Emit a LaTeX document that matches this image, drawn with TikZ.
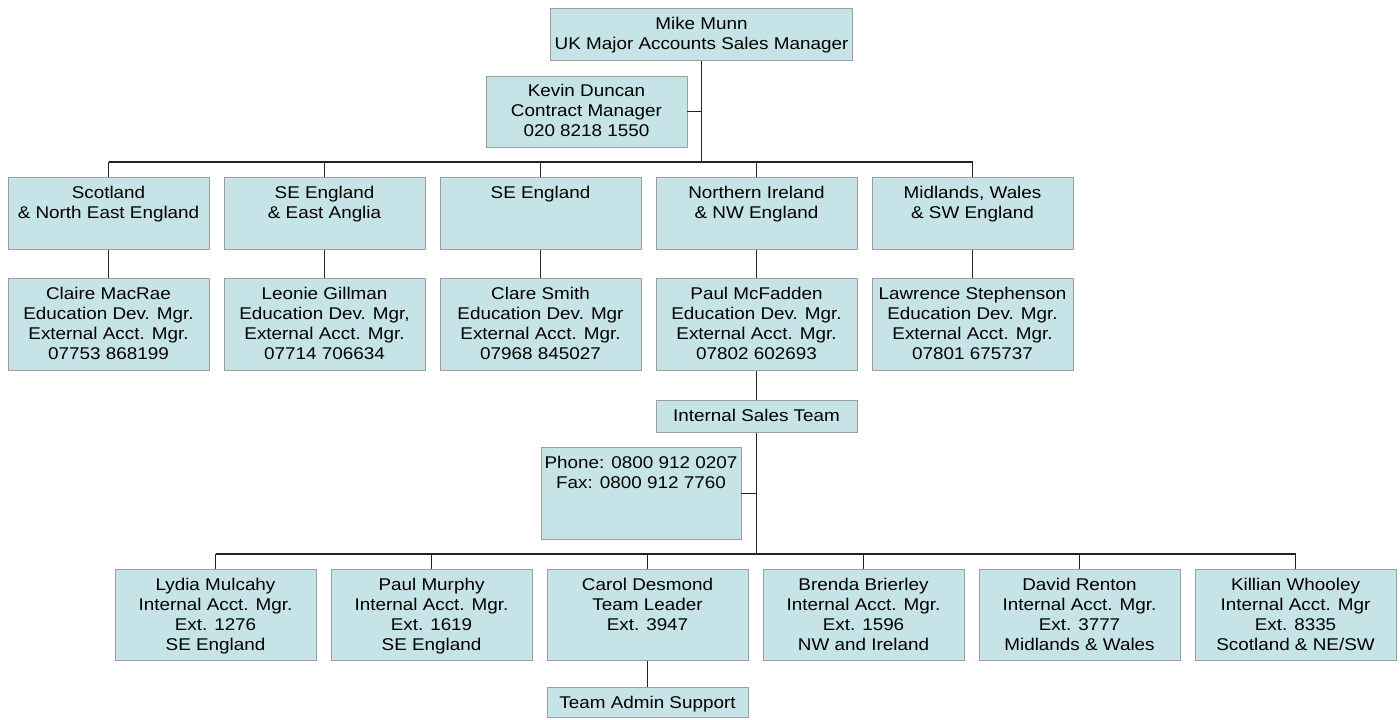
\documentclass[tikz,border=0pt]{standalone}
\usepackage{fontspec}
\setmainfont[FakeStretch=1.11]{Liberation Sans}

\definecolor{boxfill}{RGB}{198,228,232}
\definecolor{boxline}{RGB}{158,158,158}
\definecolor{wire}{RGB}{35,35,35}

\tikzset{
	% #1 = last baseline below the top, #2 = room below it
	post/.style 2 args={draw=boxline, fill=boxfill, line width=0.9pt, anchor=north, minimum width=201pt,
		inner ysep=0pt, text height=#1, text depth=#2, align=center, font=\fontsize{17}{20}\selectfont},
	link/.style={draw=wire, line width=1.1pt},
}

\begin{document}
\begin{tikzpicture}[x=1pt,y=-1pt]
	\useasboundingbox (0,0) rectangle (1400,720);
	% top
	\node[post={41pt}{11pt}, minimum width=302pt] (munn) at (701.5,8) {Mike Munn\\UK Major Accounts Sales Manager};
	\node[post={61pt}{10.5pt}] (duncan) at (586.5,75.5) {Kevin Duncan\\Contract Manager\\020 8218 1550};
	\coordinate (bustop) at (0,162);
	% regions
	\node[post={41pt}{31pt}] (scot) at (108.5,177) {Scotland\\\& North East England};
	\node[post={41pt}{31pt}] (anglia) at (324.5,177) {SE England\\\& East Anglia};
	\node[post={21pt}{51pt}] (se) at (540.5,177) {SE England};
	\node[post={41pt}{31pt}] (ni) at (756.5,177) {Northern Ireland\\\& NW England};
	\node[post={41pt}{31pt}] (mids) at (972.5,177) {Midlands, Wales\\\& SW England};
	% external managers
	\node[post={81pt}{11pt}] (macrae) at (108.5,278) {Claire MacRae\\Education Dev. Mgr.\\External Acct. Mgr.\\07753 868199};
	\node[post={81pt}{11pt}] (gillman) at (324.5,278) {Leonie Gillman\\Education Dev. Mgr,\\External Acct. Mgr.\\07714 706634};
	\node[post={81pt}{11pt}] (smith) at (540.5,278) {Clare Smith\\Education Dev. Mgr\\External Acct. Mgr.\\07968 845027};
	\node[post={81pt}{11pt}] (mcfadden) at (756.5,278) {Paul McFadden\\Education Dev. Mgr.\\External Acct. Mgr.\\07802 602693};
	\node[post={81pt}{11pt}] (stephenson) at (972.5,278) {Lawrence Stephenson\\Education Dev. Mgr.\\External Acct. Mgr.\\07801 675737};
	% internal sales
	\node[post={21pt}{11pt}] (team) at (756.5,400) {Internal Sales Team};
	\node[post={41pt}{50.5pt}, minimum width=200pt] (phone) at (641,447) {Phone: 0800 912 0207\\Fax: 0800 912 7760};
	\coordinate (busbot) at (0,554);
	\node[post={81pt}{10pt}] (mulcahy) at (215.5,569) {Lydia Mulcahy\\Internal Acct. Mgr.\\Ext. 1276\\SE England};
	\node[post={81pt}{10pt}] (murphy) at (431.5,569) {Paul Murphy\\Internal Acct. Mgr.\\Ext. 1619\\SE England};
	\node[post={61pt}{30pt}] (desmond) at (647.5,569) {Carol Desmond\\Team Leader\\Ext. 3947};
	\node[post={81pt}{10pt}] (brierley) at (863.5,569) {Brenda Brierley\\Internal Acct. Mgr.\\Ext. 1596\\NW and Ireland};
	\node[post={81pt}{10pt}] (renton) at (1079.5,569) {David Renton\\Internal Acct. Mgr.\\Ext. 3777\\Midlands \& Wales};
	\node[post={81pt}{10pt}] (whooley) at (1295.5,569) {Killian Whooley\\Internal Acct. Mgr\\Ext. 8335\\Scotland \& NE/SW};
	\node[post={21pt}{9pt}] (admin) at (647.5,687) {Team Admin Support};

	% connectors
	\draw[link]
		(munn.south) -- (munn.south |- bustop)
		(duncan.east) -- (duncan.east -| munn.south)
		(scot.north |- bustop) -- (mids.north |- bustop)
		(ni.south) -- (mcfadden.north)
		(mcfadden.south) -- (team.north)
		(team.south) -- (team.south |- busbot)
		(phone.east) -- (phone.east -| team.south)
		(mulcahy.north |- busbot) -- (whooley.north |- busbot)
		(desmond.south) -- (admin.north)
		;
	\foreach \r/\p in {scot/macrae, anglia/gillman, se/smith, mids/stephenson}
		\draw[link] (\r.north |- bustop) -- (\r.north) (\r.south) -- (\p.north);
	\draw[link] (ni.north |- bustop) -- (ni.north);
	\foreach \p in {mulcahy, murphy, desmond, brierley, renton, whooley}
		\draw[link] (\p.north |- busbot) -- (\p.north);
\end{tikzpicture}
\end{document}
